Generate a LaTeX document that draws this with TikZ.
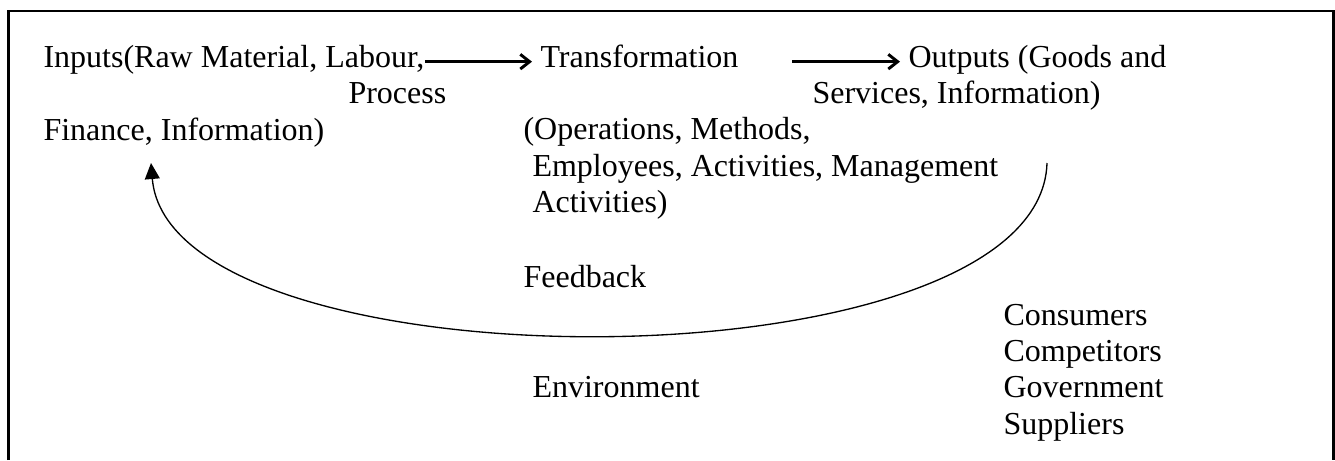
\documentclass[tikz,border=0pt]{standalone}
\usepackage{fontspec}
\setmainfont{Liberation Serif}
\usetikzlibrary{arrows.meta}

\begin{document}
\begin{tikzpicture}[x=0.375pt, y=-0.375pt,
	every node/.style={anchor=base west, inner sep=0pt, font=\fontsize{12}{14}\selectfont},
	flow/.style={line width=1.1pt, -{Straight Barb[length=3.5pt,width=5.5pt]}},
	fback/.style={line width=0.5pt, -{Triangle[length=6pt,width=5.6pt]}}]
			\useasboundingbox (0,0) rectangle (1335,460);
			\draw[line width=1pt] (8.7,460) -- (8.7,11) -- (1333.5,11) -- (1333.5,460);
			\node (inputs) at (43,67) {Inputs(Raw Material, Labour,};
			\node (process) at (348,103) {Process};
			\node (finance) at (43,140) {Finance, Information)};
			\node (transf) at (540,67) {Transformation};
			\node (ops) at (523,139) {(Operations, Methods,};
			\node (emp) at (532,176) {Employees, Activities, Management};
			\node (act) at (532,212) {Activities)};
			\node (outputs) at (908,67) {Outputs (Goods and};
			\node (services) at (812,103) {Services, Information)};
			\node (feedback) at (523,287) {Feedback};
			\node (env) at (532,397) {Environment};
			\node (consumers) at (1003,325) {Consumers};
			\node (competitors) at (1003,361) {Competitors};
			\node (government) at (1003,397) {Government};
			\node (suppliers) at (1003,434) {Suppliers};
			\coordinate (fbstart) at (1047,163);
			\coordinate (fbend) at (151,163);
			\draw[flow] ([yshift=2pt]inputs.base east) -- ([xshift=-3pt,yshift=2pt]transf.base west);
			\draw[flow] ([xshift=20pt,yshift=2pt]transf.base east) -- ([xshift=-3pt,yshift=2pt]outputs.base west);
			\draw[fback] (fbstart) .. controls (1040,392) and (170,392) .. (fbend);
		\end{tikzpicture}
\end{document}
